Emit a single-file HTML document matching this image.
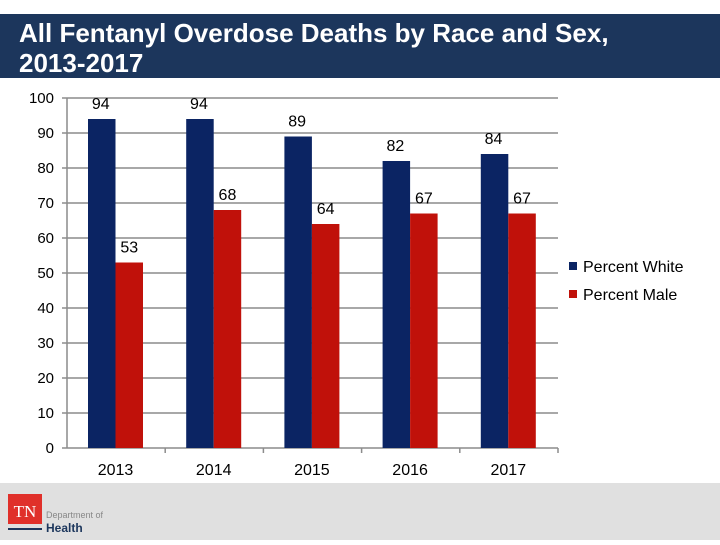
<!DOCTYPE html>
<html><head><meta charset="utf-8"><style>
body{margin:0;width:720px;height:540px;overflow:hidden;background:#fff;font-family:"Liberation Sans",Arial,sans-serif}
</style></head><body>
<svg width="720" height="540" xmlns="http://www.w3.org/2000/svg">
<rect x="0" y="14" width="720" height="64" fill="#1c365c"/>
<text x="19" y="42" fill="#fff" font-size="26" font-weight="bold" font-family="Liberation Sans, sans-serif">All Fentanyl Overdose Deaths by Race and Sex,</text>
<text x="19" y="72" fill="#fff" font-size="26" font-weight="bold" font-family="Liberation Sans, sans-serif">2013-2017</text>
<rect x="0" y="483" width="720" height="57" fill="#e0e0e0"/>
<rect x="8" y="494" width="34" height="30" fill="#e0302a"/>
<text x="25" y="517" fill="#fff" font-size="17" font-family="Liberation Serif, serif" text-anchor="middle">TN</text>
<rect x="8" y="528" width="34" height="2" fill="#1c365c"/>
<text x="46" y="518" fill="#888" font-size="9">Department of</text>
<text x="46" y="532" fill="#1c365c" font-size="12" font-weight="bold">Health</text>
<g id="grid"></g><g id="bars"></g><g id="labels"></g>
<g>
<rect x="569" y="262" width="8" height="8" fill="#0b2463"/>
<text x="583" y="272" font-size="16">Percent White</text>
<rect x="569" y="290" width="8" height="8" fill="#c0110a"/>
<text x="583" y="300" font-size="16">Percent Male</text>
</g>
</svg>
<script>
const categories=["2013","2014","2015","2016","2017"];
const white=[94,94,89,82,84];
const male=[53,68,64,67,67];
const ticks=[0,10,20,30,40,50,60,70,80,90,100];
const NS="http://www.w3.org/2000/svg";
const x0=67,x1=558,y0=448,ymax=100,ytop=98;
const y=v=>y0-(v/ymax)*(y0-ytop);
const cw=(x1-x0)/categories.length;
function mk(t,a,p){const e=document.createElementNS(NS,t);for(const k in a)e.setAttribute(k,a[k]);p.appendChild(e);return e;}
const g=document.getElementById('grid'),b=document.getElementById('bars'),l=document.getElementById('labels');
ticks.forEach(t=>{
 if(t>0){const ln=mk('line',{x1:x0,x2:x1,y1:y(t),y2:y(t),stroke:'#8c8c8c','stroke-width':1.5},g);
 
 }
 mk('line',{x1:x0-5,x2:x0,y1:y(t),y2:y(t),stroke:'#8c8c8c','stroke-width':1.5},g);
 const tx=mk('text',{x:x0-13,y:y(t)+5,'font-size':15,'text-anchor':'end'},g);tx.textContent=t;
 
 
});
const ax=mk('line',{x1:x0,x2:x0,y1:ytop,y2:y0,stroke:'#8c8c8c','stroke-width':1.5},g);


const xa=mk('line',{x1:x0,x2:x1,y1:y0,y2:y0,stroke:'#8c8c8c','stroke-width':1.5},g);


categories.forEach((c,i)=>{
 const cx=x0+i*cw;
 mk('line',{x1:cx+cw,x2:cx+cw,y1:y0,y2:y0+5,stroke:'#8c8c8c','stroke-width':1.5},g);
 const bw=27.5,bx=cx+21;
 const r1=mk('rect',{x:bx,y:y(white[i]),width:bw,height:y0-y(white[i]),fill:'#0b2463'},b);
 
 
 const r2=mk('rect',{x:bx+bw,y:y(male[i]),width:bw,height:y0-y(male[i]),fill:'#c0110a'},b);
 
 
 const t1=mk('text',{x:bx+bw/2-1,y:y(white[i])-10,'font-size':16,'text-anchor':'middle'},l);t1.textContent=white[i];
 
 
 const t2=mk('text',{x:bx+bw*1.5,y:y(male[i])-10,'font-size':16,'text-anchor':'middle'},l);t2.textContent=male[i];
 
 
 const xl=mk('text',{x:bx+bw,y:475,'font-size':16,'text-anchor':'middle'},l);xl.textContent=c;
 
 
});
</script>
</body></html>
